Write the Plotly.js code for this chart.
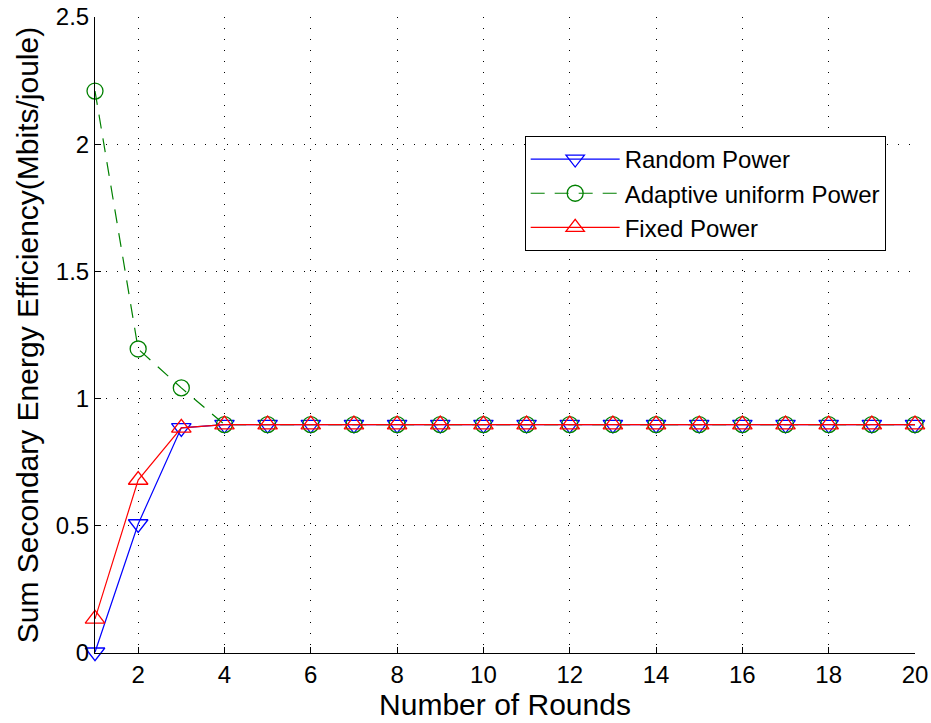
<!DOCTYPE html>
<html>
<head>
<meta charset="utf-8">
<script src="https://cdn.plot.ly/plotly-3.0.1.min.js"></script>
<style>html,body{margin:0;padding:0;background:#fff;}#chart{width:931px;height:723px;}</style>
</head>
<body>
<div id="chart"></div>
<script>
const rounds = [1,2,3,4,5,6,7,8,9,10,11,12,13,14,15,16,17,18,19,20];
const randomPower = [0.003,0.507,0.885,0.898,0.898,0.898,0.898,0.898,0.898,0.898,0.898,0.898,0.898,0.898,0.898,0.898,0.898,0.898,0.898,0.898];
const adaptivePower = [2.209,1.195,1.042,0.898,0.898,0.898,0.898,0.898,0.898,0.898,0.898,0.898,0.898,0.898,0.898,0.898,0.898,0.898,0.898,0.898];
const fixedPower = [0.134,0.680,0.885,0.898,0.898,0.898,0.898,0.898,0.898,0.898,0.898,0.898,0.898,0.898,0.898,0.898,0.898,0.898,0.898,0.898];
const seriesNames = ['Random Power','Adaptive uniform Power','Fixed Power'];
const xTicks = [2,4,6,8,10,12,14,16,18,20];
const yTicks = [0,0.5,1,1.5,2,2.5];
const yTickText = ['0','0.5','1','1.5','2','2.5'];

const font = 'Liberation Sans, Arial, Helvetica, sans-serif';
const traces = [
  {x: rounds, y: randomPower, name: seriesNames[0], mode: 'lines+markers', cliponaxis: false,
   line: {color: '#0000ff', width: 1.2},
   marker: {symbol: 'triangle-down-open', size: 17, color: '#0000ff', line: {width: 1.3}}},
  {x: rounds, y: adaptivePower, name: seriesNames[1], mode: 'lines+markers', cliponaxis: false,
   line: {color: '#008000', width: 1.2, dash: '14px,10px'},
   marker: {symbol: 'circle-open', size: 16, color: '#008000', line: {width: 1.3}}},
  {x: rounds, y: fixedPower, name: seriesNames[2], mode: 'lines+markers', cliponaxis: false,
   line: {color: '#ff0000', width: 1.2},
   marker: {symbol: 'triangle-up-open', size: 17, color: '#ff0000', line: {width: 1.3}}}
];

const layout = {
  width: 931, height: 723,
  margin: {l: 95, r: 16, t: 17, b: 70},
  paper_bgcolor: '#fff', plot_bgcolor: '#fff',
  font: {family: font, color: '#000', size: 24},
  showlegend: true,
  legend: {x: 0.524, y: 0.813, xanchor: 'left', yanchor: 'top',
    bgcolor: '#fff', bordercolor: '#000', borderwidth: 1,
    font: {family: font, size: 24, color: '#000'}, tracegroupgap: 0, itemwidth: 89},
  xaxis: {range: [1,20], tickvals: xTicks, ticktext: xTicks.map(String),
    showline: true, linecolor: '#000', linewidth: 1, mirror: false,
    ticks: 'inside', ticklen: 6, tickcolor: '#000',
    showgrid: true, gridcolor: '#000', gridwidth: 1, griddash: '1px,10px',
    zeroline: false, tickfont: {size: 24},
    title: {text: 'Number of Rounds', font: {size: 30}, standoff: 2}},
  yaxis: {range: [0,2.5], tickvals: yTicks, ticktext: yTickText,
    showline: true, linecolor: '#000', linewidth: 1, mirror: false,
    ticks: 'inside', ticklen: 6, tickcolor: '#000',
    showgrid: true, gridcolor: '#000', gridwidth: 1, griddash: '1px,10px',
    zeroline: false, tickfont: {size: 24},
    title: {text: 'Sum Secondary Energy Efficiency(Mbits/joule)', font: {size: 30}, standoff: 8}}
};
Plotly.newPlot('chart', traces, layout, {displayModeBar: false, staticPlot: true});
</script>
</body>
</html>
